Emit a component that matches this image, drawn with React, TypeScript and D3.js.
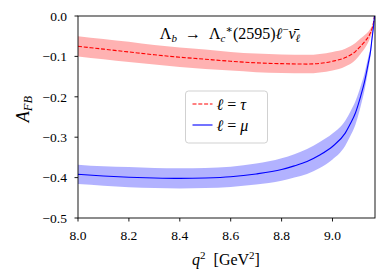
import React from 'react';
import * as d3 from 'd3';

// tau channel: central value and band edges
const qTau = [8.0, 8.1, 8.2, 8.3, 8.4, 8.5, 8.6, 8.7, 8.8, 8.9, 9.0, 9.05, 9.09, 9.11, 9.13, 9.145, 9.155, 9.16, 9.165];
const tauCentral = [-0.075, -0.082, -0.089, -0.096, -0.102, -0.107, -0.112, -0.116, -0.118, -0.119, -0.112, -0.103, -0.088, -0.075, -0.061, -0.047, -0.032, -0.02, 0];
const tauLow = [-0.100, -0.107, -0.114, -0.120, -0.126, -0.131, -0.135, -0.139, -0.141, -0.142, -0.135, -0.125, -0.109, -0.094, -0.077, -0.059, -0.040, -0.025, 0];
const tauHigh = [-0.050, -0.057, -0.064, -0.072, -0.078, -0.083, -0.089, -0.093, -0.095, -0.096, -0.089, -0.081, -0.067, -0.056, -0.045, -0.035, -0.024, -0.015, 0];

// mu channel
const qMu = [8.0, 8.1, 8.2, 8.3, 8.4, 8.5, 8.6, 8.7, 8.8, 8.85, 8.9, 8.95, 9.0, 9.05, 9.07, 9.09, 9.11, 9.125, 9.14, 9.15, 9.156, 9.16, 9.165];
const muCentral = [-0.392, -0.396, -0.399, -0.401, -0.402, -0.401, -0.398, -0.391, -0.380, -0.371, -0.360, -0.344, -0.323, -0.290, -0.267, -0.240, -0.200, -0.165, -0.119, -0.085, -0.052, -0.032, 0];
const muLow = [-0.416, -0.420, -0.424, -0.426, -0.427, -0.426, -0.423, -0.417, -0.408, -0.400, -0.391, -0.376, -0.355, -0.321, -0.297, -0.269, -0.225, -0.186, -0.135, -0.096, -0.060, -0.037, 0];
const muHigh = [-0.368, -0.372, -0.374, -0.376, -0.377, -0.376, -0.373, -0.365, -0.352, -0.342, -0.329, -0.312, -0.291, -0.259, -0.237, -0.211, -0.175, -0.144, -0.103, -0.074, -0.044, -0.027, 0];

const xTicks = [8.0, 8.2, 8.4, 8.6, 8.8, 9.0];
const yTicks = [0.0, -0.1, -0.2, -0.3, -0.4, -0.5];

const FONT = "'Times New Roman', Times, 'Liberation Serif', 'DejaVu Serif', 'Nimbus Roman', FreeSerif, serif";

export default function App() {
  const width = 390, height = 273;
  const margin = { top: 16, right: 15, bottom: 55, left: 78 };
  const w = width - margin.left - margin.right;
  const h = height - margin.top - margin.bottom;

  const x = d3.scaleLinear().domain([8.0, 9.167]).range([0, w]);
  const y = d3.scaleLinear().domain([-0.5, 0.0]).range([h, 0]);
  const fmt = d3.format('.1f');

  const band = (qs, lo, hi) =>
    d3.area()
      .x((d, i) => x(qs[i]))
      .y0((d, i) => y(lo[i]))
      .y1((d, i) => y(hi[i]))
      .curve(d3.curveMonotoneX)(qs);

  const line = (qs, vals) =>
    d3.line()
      .x((d, i) => x(qs[i]))
      .y((d, i) => y(vals[i]))
      .curve(d3.curveMonotoneX)(qs);

  const transform = 'translate(' + margin.left + ',' + margin.top + ')';

  return (
    <div style={{ position: 'fixed', left: 0, top: 0 }}>
      <svg width={width} height={height} style={{ display: 'block', background: '#fff', fontFamily: FONT }}>
        <defs>
          <clipPath id="plot">
            <rect x={0} y={0} width={w} height={h} />
          </clipPath>
        </defs>
        <g transform={transform}>
          <g clipPath="url(#plot)">
            <path d={band(qTau, tauLow, tauHigh)} fill="#ff0000" fillOpacity={0.3} stroke="none" />
            <path d={band(qMu, muLow, muHigh)} fill="#0000ff" fillOpacity={0.3} stroke="none" />
            <path d={line(qTau, tauCentral)} fill="none" stroke="#ff0000" strokeWidth={1.1} strokeDasharray="4,1.8" />
            <path d={line(qMu, muCentral)} fill="none" stroke="#0000ff" strokeWidth={1.1} />
          </g>
          <rect x={0} y={0} width={w} height={h} fill="none" stroke="#000" strokeWidth={0.9} />

          {xTicks.map(t => (
            <g key={'x' + t} transform={'translate(' + x(t) + ',' + h + ')'}>
              <line y1={0} y2={3.5} stroke="#000" strokeWidth={0.9} />
              <text y={22} textAnchor="middle" fontSize={13.5}>{fmt(t)}</text>
            </g>
          ))}
          {yTicks.map(t => (
            <g key={'y' + t} transform={'translate(0,' + y(t) + ')'}>
              <line x1={0} x2={-3.5} stroke="#000" strokeWidth={0.9} />
              <text x={-11} dy="0.36em" textAnchor="end" fontSize={13.5}>{fmt(t)}</text>
            </g>
          ))}

          {/* title */}
          <text x={152} y={22.5} textAnchor="middle" fontSize={16}>
            Λ<tspan fontStyle="italic" fontSize={11} dy={3.5}>b</tspan>
            <tspan dy={-3.5}>{'\u2002→\u2002Λ'}</tspan>
            <tspan fontStyle="italic" fontSize={11} dy={3.5}>c</tspan>
            <tspan fontSize={11} dy={-9.5}>∗</tspan>
            <tspan dy={6}>(2595)</tspan>
            <tspan fontStyle="italic">ℓ</tspan>
            <tspan fontSize={11} dy={-6}>−</tspan>
            <tspan fontStyle="italic" dy={6}>{'ν\u0304'}</tspan>
            <tspan fontStyle="italic" fontSize={11} dy={3.5}>ℓ</tspan>
          </text>

          {/* legend */}
          <g transform="translate(107.5,75)">
            <rect x={0} y={0} width={82} height={52} rx={3} fill="#fff" fillOpacity={0.8} stroke="#cccccc" strokeWidth={0.9} />
            <line x1={7} x2={27} y1={13} y2={13} stroke="#ff0000" strokeWidth={1.1} strokeDasharray="4,1.8" />
            <line x1={7} x2={27} y1={34} y2={34} stroke="#0000ff" strokeWidth={1.1} />
            <text x={31} y={18.5} fontSize={16}>
              <tspan fontStyle="italic">ℓ</tspan> = <tspan fontStyle="italic">τ</tspan>
            </text>
            <text x={31} y={40} fontSize={16}>
              <tspan fontStyle="italic">ℓ</tspan> = <tspan fontStyle="italic">μ</tspan>
            </text>
          </g>
        </g>

        {/* axis labels */}
        <text x={226} y={265} textAnchor="middle" fontSize={16}>
          <tspan fontStyle="italic">q</tspan>
          <tspan fontSize={11} dy={-6}>2</tspan>
          <tspan dy={6}>{'\u00a0\u00a0[GeV'}</tspan>
          <tspan fontSize={11} dy={-6}>2</tspan>
          <tspan dy={6}>]</tspan>
        </text>
        <text transform="translate(28.5,109) rotate(-90)" textAnchor="middle" fontSize={18}>
          <tspan fontStyle="italic">A</tspan>
          <tspan fontStyle="italic" fontSize={12.5} dy={3.5}>FB</tspan>
        </text>
      </svg>
    </div>
  );
}
